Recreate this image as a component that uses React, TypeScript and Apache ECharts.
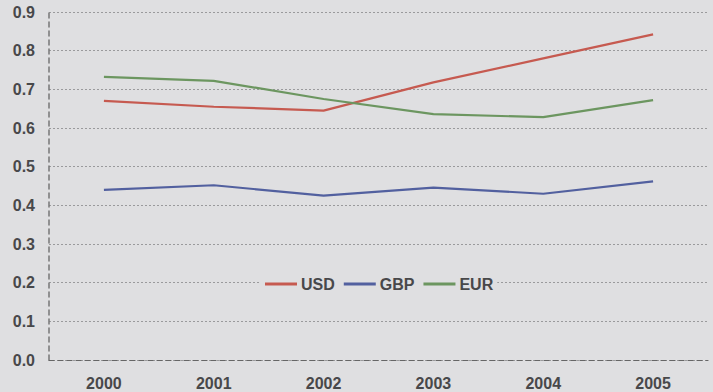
import React, { useEffect, useRef } from "react";
import * as echarts from "echarts";

const years = ["2000", "2001", "2002", "2003", "2004", "2005"];
const usd = [0.67, 0.655, 0.645, 0.718, 0.78, 0.842];
const gbp = [0.44, 0.452, 0.425, 0.446, 0.43, 0.462];
const eur = [0.732, 0.722, 0.675, 0.636, 0.628, 0.672];

export default function App() {
  const ref = useRef<HTMLDivElement>(null);
  useEffect(() => {
    if (!ref.current) return;
    const chart = echarts.init(ref.current, undefined, { renderer: "svg" });
    const labelStyle = { color: "#48484a", fontWeight: "bold" as const, fontSize: 16, fontFamily: "Liberation Sans, Arial, sans-serif" };
    chart.setOption({
      animation: false,
      backgroundColor: "#dfdfe1",
      legend: {
        data: ["USD", "GBP", "EUR"],
        top: 274,
        left: 261,
        itemWidth: 32,
        itemHeight: 3,
        itemGap: 9,
        icon: "rect",
        backgroundColor: "#dfdfe1",
        padding: [2, 4],
        textStyle: { ...labelStyle, padding: [0, 0, 0, -1] },
      },
      grid: { left: 49, right: 5, top: 12, bottom: 32 },
      xAxis: {
        type: "category",
        data: years,
        boundaryGap: true,
        axisLine: { show: true, lineStyle: { color: "#666", type: [5, 4], width: 1.2 } },
        axisTick: { show: false },
        axisLabel: { ...labelStyle, margin: 15 },
      },
      yAxis: {
        type: "value",
        min: 0,
        max: 0.9,
        interval: 0.1,
        axisLine: { show: true, lineStyle: { color: "#777", type: [5, 4], width: 1.5 } },
        axisTick: { show: false },
        axisLabel: { ...labelStyle, margin: 14, formatter: (v: number) => v.toFixed(1) },
        splitLine: { show: true, lineStyle: { color: "#9a9a9c", type: [2, 2], width: 1 } },
      },
      series: [
        { name: "USD", type: "line", data: usd, symbol: "none", lineStyle: { color: "#c65a50", width: 2.2 }, itemStyle: { color: "#c65a50" } },
        { name: "GBP", type: "line", data: gbp, symbol: "none", lineStyle: { color: "#52609f", width: 2.2 }, itemStyle: { color: "#52609f" } },
        { name: "EUR", type: "line", data: eur, symbol: "none", lineStyle: { color: "#6c9660", width: 2.2 }, itemStyle: { color: "#6c9660" } },
      ],
    });
    return () => chart.dispose();
  }, []);
  return <div ref={ref} style={{ position: "absolute", left: 0, top: 0, width: 713, height: 392 }} />;
}
